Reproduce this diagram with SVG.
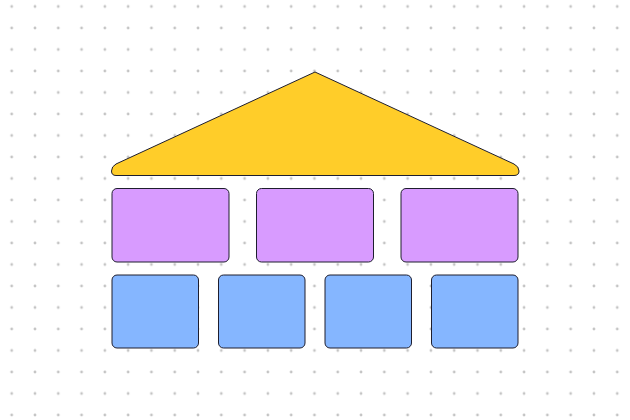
<svg xmlns="http://www.w3.org/2000/svg" width="630" height="420" viewBox="0 0 630 420">
  <defs>
    <pattern id="dots" x="11.7" y="6.5" width="23.29" height="21.5" patternUnits="userSpaceOnUse">
      <circle cx="0" cy="0" r="1.4" fill="#c4c4c4"/>
      <circle cx="23.29" cy="0" r="1.4" fill="#c4c4c4"/>
      <circle cx="0" cy="21.5" r="1.4" fill="#c4c4c4"/>
      <circle cx="23.29" cy="21.5" r="1.4" fill="#c4c4c4"/>
    </pattern>
    <style>
      .stroke { stroke: #1e1e2e; stroke-width: 1; }
      .roof { fill: #ffcd29; }
      .pillar { fill: #d89bff; }
      .base { fill: #85b6ff; }
    </style>
  </defs>
  <rect width="630" height="420" fill="#ffffff"/>
  <rect width="630" height="420" fill="url(#dots)"/>
  <g id="roof">
    <path class="roof stroke" d="M315,72 L514,164 Q519,166.5 519,171 Q519,175.5 514,175.5 L116,175.5 Q111.5,175.5 111.5,171 Q111.5,166.5 116,164 Z"/>
  </g>
  <g id="pillar-1"><rect class="pillar stroke" x="112" y="188.5" width="117" height="73.5" rx="5"/></g>
  <g id="pillar-2"><rect class="pillar stroke" x="256.5" y="188.5" width="117" height="73.5" rx="5"/></g>
  <g id="pillar-3"><rect class="pillar stroke" x="401" y="188.5" width="117" height="73.5" rx="5"/></g>
  <g id="base-1"><rect class="base stroke" x="112" y="275" width="86.5" height="73" rx="5"/></g>
  <g id="base-2"><rect class="base stroke" x="218.5" y="275" width="86.5" height="73" rx="5"/></g>
  <g id="base-3"><rect class="base stroke" x="325" y="275" width="86.5" height="73" rx="5"/></g>
  <g id="base-4"><rect class="base stroke" x="431.5" y="275" width="86.5" height="73" rx="5"/></g>
  <g id="connectors"></g>
</svg>
